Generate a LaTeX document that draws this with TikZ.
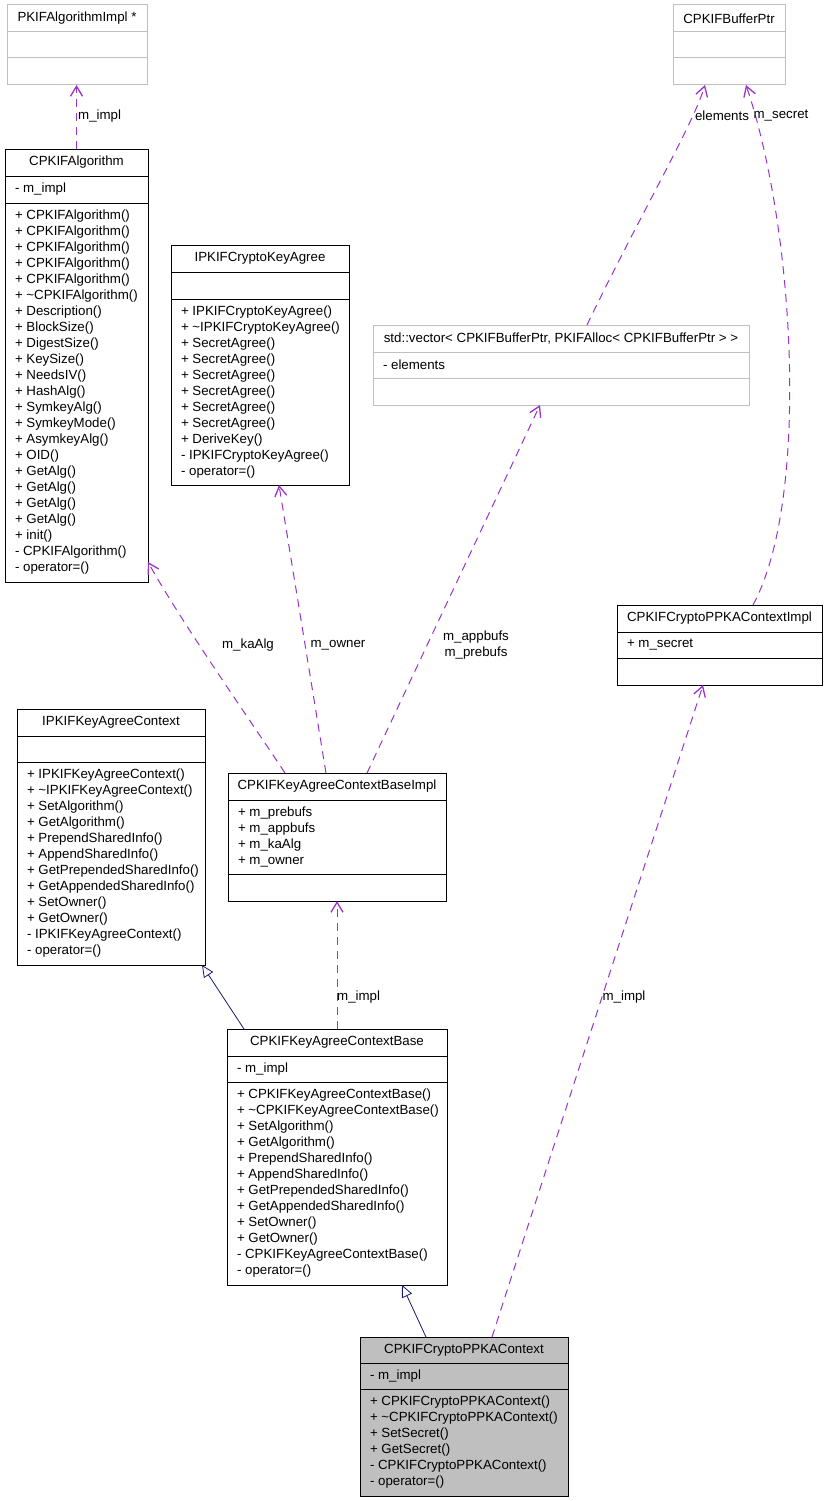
\documentclass[tikz,border=0pt]{standalone}
\usepackage{fontspec}
\setmainfont{Liberation Sans}
\usetikzlibrary{shapes.multipart, arrows.meta}

\definecolor{umlgrey}{HTML}{BFBFBF}
\definecolor{usecol}{HTML}{9A32CD}
\definecolor{inhcol}{HTML}{191970}

\newlength\umlw
\newcommand\umlfont{\fontsize{13.3}{16}\selectfont}
\newcommand\umltitle[2][26pt]{\parbox[c][#1][c]{\umlw}{\centering #2}}
\newcommand\umlsec[2]{\parbox[c][#1][c]{\umlw}{\raggedright\leftskip=10pt\relax #2}}

\tikzset{
  umlclass/.style={draw=black, line width=1pt, rectangle split, rectangle split parts=3,
    inner sep=0pt, outer sep=0pt, anchor=north west, font=\umlfont},
  extclass/.style={umlclass, draw=umlgrey},
  mainclass/.style={umlclass, fill=umlgrey},
  boxw/.code={\setlength\umlw{#1}},
  useedge/.style={draw=usecol, line width=1pt, dash pattern=on 8pt off 6pt,
    -{Straight Barb[length=10pt,width=12pt,line width=1.3pt]}},
  inhedge/.style={draw=inhcol, line width=0.8pt, -{Triangle[length=12pt,width=11pt,fill=white]}},
  lbl/.style={font=\umlfont, inner sep=1pt}
}

\begin{document}
\begin{tikzpicture}[x=1pt, y=-1pt]
  \useasboundingbox (0,0) rectangle (825,1501);

  % classes
  \node[extclass, boxw=140pt] (pimpl) at (7,5)
    {\umltitle{PKIFAlgorithmImpl *}\nodepart{two}\umlsec{25pt}{}\nodepart{three}\umlsec{26pt}{}};
  \node[extclass, boxw=112pt] (bufptr) at (673,5)
    {\umltitle{CPKIFBufferPtr}\nodepart{two}\umlsec{25pt}{}\nodepart{three}\umlsec{26pt}{}};
  \node[umlclass, boxw=143pt] (algo) at (5,149)
    {\umltitle{CPKIFAlgorithm}\nodepart{two}\umlsec{26pt}{- m\_impl}
     \nodepart{three}\umlsec{378pt}{+ CPKIFAlgorithm()\\+ CPKIFAlgorithm()\\+ CPKIFAlgorithm()\\
       + CPKIFAlgorithm()\\+ CPKIFAlgorithm()\\+ \textasciitilde CPKIFAlgorithm()\\+ Description()\\
       + BlockSize()\\+ DigestSize()\\+ KeySize()\\+ NeedsIV()\\+ HashAlg()\\+ SymkeyAlg()\\
       + SymkeyMode()\\+ AsymkeyAlg()\\+ OID()\\+ GetAlg()\\+ GetAlg()\\+ GetAlg()\\+ GetAlg()\\
       + init()\\- CPKIFAlgorithm()\\- operator=()}};
  \node[umlclass, boxw=178pt] (cka) at (171,245)
    {\umltitle{IPKIFCryptoKeyAgree}\nodepart{two}\umlsec{26pt}{}
     \nodepart{three}\umlsec{185pt}{+ IPKIFCryptoKeyAgree()\\+ \textasciitilde IPKIFCryptoKeyAgree()\\
       + SecretAgree()\\+ SecretAgree()\\+ SecretAgree()\\+ SecretAgree()\\+ SecretAgree()\\
       + SecretAgree()\\+ DeriveKey()\\- IPKIFCryptoKeyAgree()\\- operator=()}};
  \node[extclass, boxw=376pt] (vector) at (373,325)
    {\umltitle{std::vector< CPKIFBufferPtr, PKIFAlloc< CPKIFBufferPtr > >}
     \nodepart{two}\umlsec{25pt}{- elements}\nodepart{three}\umlsec{26pt}{}};
  \node[umlclass, boxw=205pt] (ctximpl) at (617,605)
    {\umltitle{CPKIFCryptoPPKAContextImpl}\nodepart{two}\umlsec{25pt}{+ m\_secret}
     \nodepart{three}\umlsec{26pt}{}};
  \node[umlclass, boxw=188pt] (ikac) at (17,709)
    {\umltitle{IPKIFKeyAgreeContext}\nodepart{two}\umlsec{25pt}{}
     \nodepart{three}\umlsec{202pt}{+ IPKIFKeyAgreeContext()\\+ \textasciitilde IPKIFKeyAgreeContext()\\
       + SetAlgorithm()\\+ GetAlgorithm()\\+ PrependSharedInfo()\\+ AppendSharedInfo()\\
       + GetPrependedSharedInfo()\\+ GetAppendedSharedInfo()\\+ SetOwner()\\+ GetOwner()\\
       - IPKIFKeyAgreeContext()\\- operator=()}};
  \node[umlclass, boxw=218pt] (bimpl) at (228,773)
    {\umltitle{CPKIFKeyAgreeContextBaseImpl}
     \nodepart{two}\umlsec{73pt}{+ m\_prebufs\\+ m\_appbufs\\+ m\_kaAlg\\+ m\_owner}
     \nodepart{three}\umlsec{26pt}{}};
  \node[umlclass, boxw=220pt] (base) at (227,1029)
    {\umltitle{CPKIFKeyAgreeContextBase}\nodepart{two}\umlsec{25pt}{- m\_impl}
     \nodepart{three}\umlsec{202pt}{+ CPKIFKeyAgreeContextBase()\\+ \textasciitilde CPKIFKeyAgreeContextBase()\\
       + SetAlgorithm()\\+ GetAlgorithm()\\+ PrependSharedInfo()\\+ AppendSharedInfo()\\
       + GetPrependedSharedInfo()\\+ GetAppendedSharedInfo()\\+ SetOwner()\\+ GetOwner()\\
       - CPKIFKeyAgreeContextBase()\\- operator=()}};
  \node[mainclass, boxw=208pt] (ppka) at (360,1337)
    {\umltitle[25pt]{CPKIFCryptoPPKAContext}\nodepart{two}\umlsec{25pt}{- m\_impl}
     \nodepart{three}\umlsec{106pt}{+ CPKIFCryptoPPKAContext()\\+ \textasciitilde CPKIFCryptoPPKAContext()\\
       + SetSecret()\\+ GetSecret()\\- CPKIFCryptoPPKAContext()\\- operator=()}};

  % usage edges
  \draw[useedge] (algo.north) -- (algo.north |- pimpl.south);
  \draw[useedge] ([xshift=214pt]vector.north west) .. controls +(53,-110) and +(-12,40) .. ([xshift=32pt]bufptr.south west);
  \draw[useedge] ([xshift=136pt]ctximpl.north west) .. controls +(57,-105) and +(49,145) .. ([xshift=73pt]bufptr.south west);
  \draw[useedge] ([xshift=57pt]bimpl.north west) .. controls +(-35,-53) and +(32,58) .. ([yshift=20pt]algo.south east);
  \draw[useedge] ([xshift=98pt]bimpl.north west) -- ([xshift=108pt]cka.south west);
  \draw[useedge] ([xshift=139pt]bimpl.north west) -- ([xshift=167pt]vector.south west);
  \draw[useedge] (base.north) -- (base.north |- bimpl.south);
  \draw[useedge] ([xshift=132pt]ppka.north west) -- ([xshift=86pt]ctximpl.south west);

  % inheritance
  \draw[inhedge] ([xshift=17pt]base.north west) -- ([xshift=-3pt]ikac.south east);
  \draw[inhedge] ([xshift=66pt]ppka.north west) -- ([xshift=-45pt]base.south east);

  % labels
  \node[lbl, anchor=west] (lImplA) at (77,116) {m\_impl};
  \node[lbl] (lElem) at (722,116) {elements};
  \node[lbl] (lSecret) at (781,116) {m\_secret};
  \node[lbl] (lKaAlg) at (248,645) {m\_kaAlg};
  \node[lbl] (lOwner) at (338,645) {m\_owner};
  \node[lbl, align=center] (lBufs) at (476,645) {m\_appbufs\\m\_prebufs};
  \node[lbl, anchor=west] (lImplB) at (336,997) {m\_impl};
  \node[lbl] (lImplC) at (624,997) {m\_impl};
\end{tikzpicture}
\end{document}
